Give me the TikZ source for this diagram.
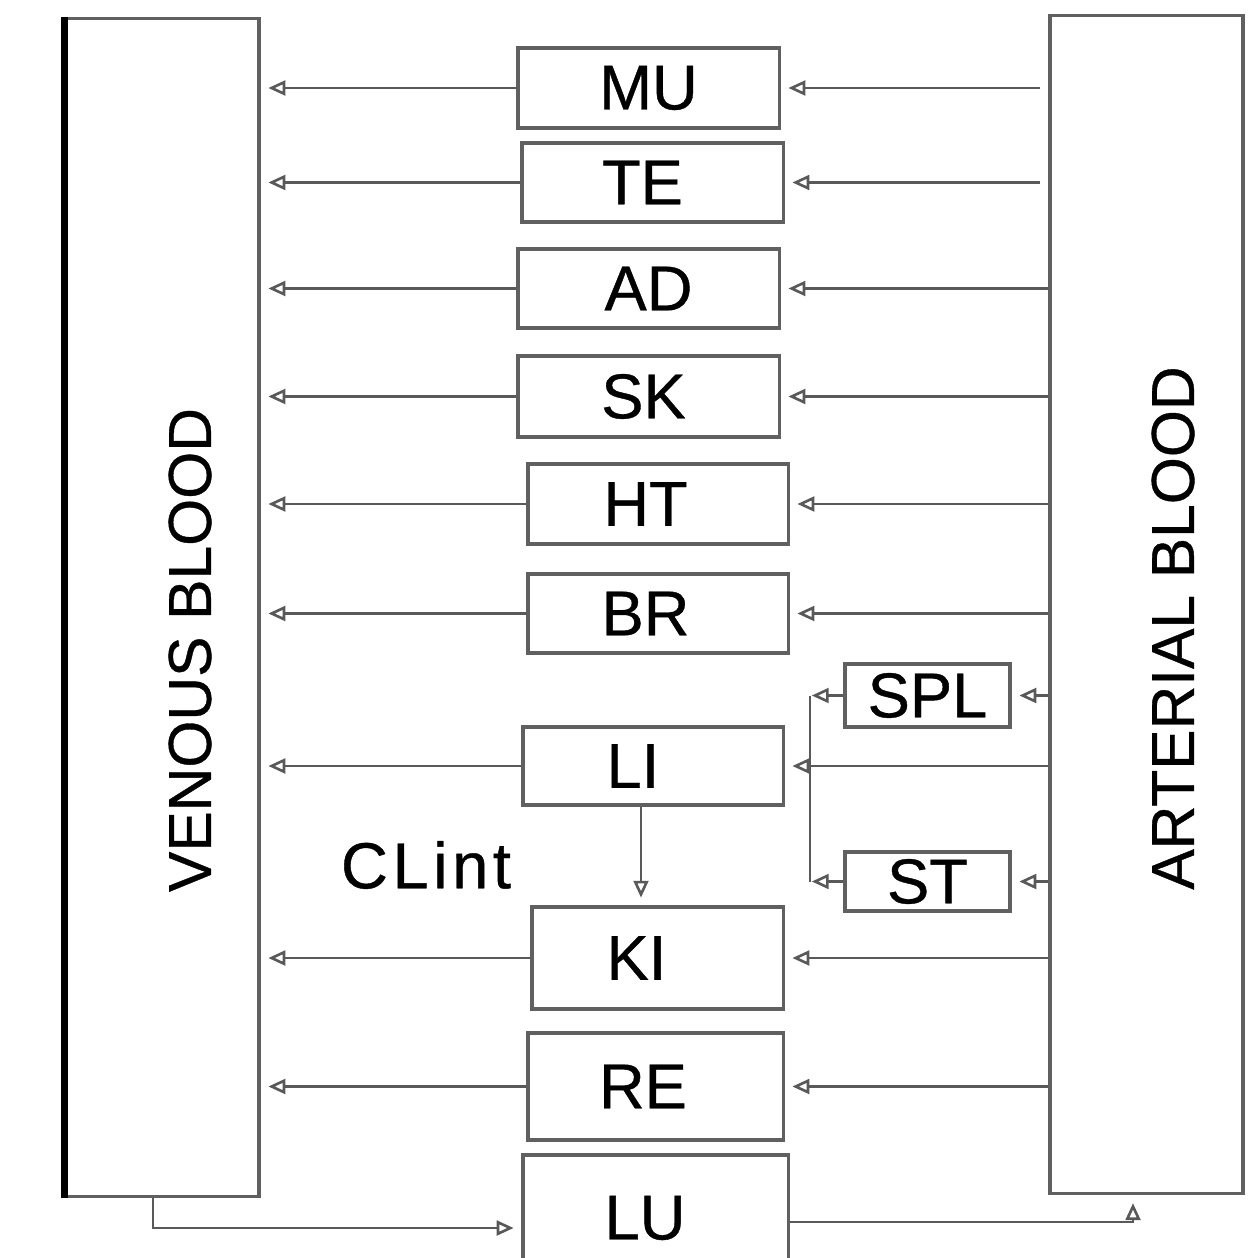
\documentclass[tikz,border=0pt]{standalone}
\usepackage{fontspec}
\setmainfont{Liberation Sans}
\usetikzlibrary{calc}
\usetikzlibrary{arrows.meta}

\begin{document}
\begin{tikzpicture}[x=0.01cm, y=-0.01cm,
    organ/.style={draw=gray!75!black, line width=0.9pt, inner sep=0pt, font=\fontsize{18}{20}\selectfont\addfontfeatures{FakeBold=0.6}},
    pool/.style={draw=gray!75!black, line width=0.9pt, inner sep=0pt, minimum width=1.93cm, minimum height=11.78cm},
    flow/.style={gray!70!black, line width=0.75pt, -{Triangle[open, length=4.8pt, width=4.2pt]}, shorten >=2.2pt}]
    \useasboundingbox (0, 0) rectangle (1252, 1258);

    % blood pools
    \node[pool] (ven) at (162.5, 607.5) {};
    \node[pool] (art) at (1146.5, 604.5) {};
    \draw[black, line width=1.8pt] (ven.north west) -- (ven.south west);
    \node[rotate=90, font=\fontsize{17.2}{20}\selectfont\addfontfeatures{FakeBold=0.6}] (venlab) at (190, 650) {VENOUS BLOOD};
    \node[rotate=90, font=\fontsize{17.2}{20}\selectfont\addfontfeatures{FakeBold=0.6}] (artlab) at (1173, 628) {ARTERIAL BLOOD};

    % organ compartments
    \node[organ, minimum width=2.61cm, minimum height=0.80cm] (MU) at (648.5, 88) {MU};
    \node[organ, minimum width=2.61cm, minimum height=0.79cm] (TE) at (652.5, 182.5) {TE\kern0.2cm};
    \node[organ, minimum width=2.61cm, minimum height=0.79cm] (AD) at (648.5, 288.5) {AD};
    \node[organ, minimum width=2.61cm, minimum height=0.81cm] (SK) at (648.5, 396.5) {SK\kern0.1cm};
    \node[organ, minimum width=2.60cm, minimum height=0.80cm] (HT) at (658, 504) {HT\kern0.25cm};
    \node[organ, minimum width=2.60cm, minimum height=0.79cm] (BR) at (658, 613.5) {BR\kern0.25cm};
    \node[organ, minimum width=1.65cm, minimum height=0.63cm] (SPL) at (927.5, 695.5) {SPL};
    \node[organ, minimum width=2.60cm, minimum height=0.78cm] (LI) at (653, 766) {LI\kern0.4cm};
    \node[organ, minimum width=1.65cm, minimum height=0.59cm] (ST) at (927.5, 881.5) {ST};
    \node[organ, minimum width=2.51cm, minimum height=1.02cm] (KI) at (657.5, 958) {KI\kern0.42cm};
    \node[organ, minimum width=2.55cm, minimum height=1.07cm] (RE) at (655.5, 1086.5) {RE\kern0.25cm};
    \node[organ, minimum width=2.65cm, minimum height=1.20cm] (LU) at (655.5, 1215) {};
    \node[font=\fontsize{18}{20}\selectfont\addfontfeatures{FakeBold=0.6}] (LUlab) at (645, 1218) {LU};
    \node[font=\fontsize{18.5}{20}\selectfont\addfontfeatures{FakeBold=0.6,LetterSpace=7}] (CLint) at (426, 865) {CLint};

    % outflow to venous blood
    \foreach \o in {MU, TE, AD, SK, HT, BR, LI, KI, RE}
        \draw[flow] (\o.west) -- (\o.west -| ven.east);

    % inflow from arterial blood
    \foreach \o in {MU, TE}
        \draw[flow, shorten <=0.08cm] (art.west |- \o.east) -- (\o.east);
    \foreach \o in {AD, SK, HT, BR, SPL, LI, ST, KI, RE}
        \draw[flow] (art.west |- \o.east) -- (\o.east);

    % portal route into the liver
    \coordinate (junc) at (810, 766);
    \draw[gray!70!black, line width=0.75pt] (SPL.west -| junc) -- (ST.west -| junc);
    \draw[flow, shorten >=0.5pt] (SPL.west) -- (SPL.west -| junc);
    \draw[flow, shorten >=0.5pt] (ST.west) -- (ST.west -| junc);
    \draw[flow] ([xshift=-0.12cm]LI.south) -- ([xshift=-0.12cm]LI.south |- KI.north);

    % lungs
    \coordinate (vout) at ([xshift=-0.095cm]ven.south);
    \coordinate (aout) at ([xshift=-0.135cm]art.south);
    \draw[flow] (vout) |- ([yshift=-0.13cm]LU.west);
    \draw[flow] ([yshift=-0.07cm]LU.east) -| (aout);
\end{tikzpicture}
\end{document}
